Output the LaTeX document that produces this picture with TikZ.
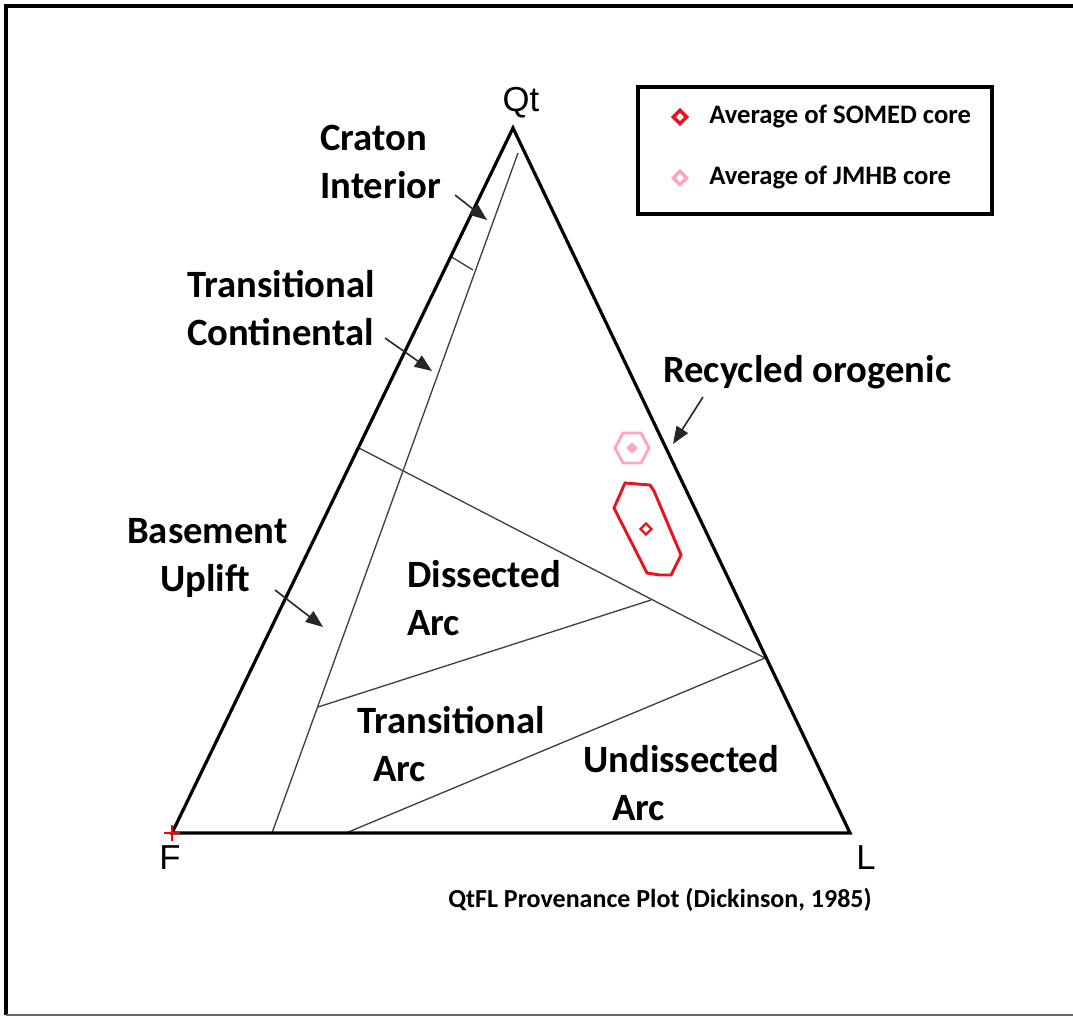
\documentclass[tikz,border=0pt]{standalone}
\usepackage{fontspec}
\setmainfont{Carlito}
\newfontfamily\arialfont{Liberation Sans}
\usetikzlibrary{arrows.meta,shapes.geometric}
\definecolor{somedred}{RGB}{230,20,30}
\definecolor{jmhbpink}{RGB}{255,165,195}
\tikzset{
        x=0.75pt, y=-0.75pt,
        frame/.style={draw=black, line width=3pt},
        edge/.style={draw=black, line width=2.4pt, line join=miter},
        field/.style={draw=black!75, line width=1pt},
        lbl/.style={anchor=base west, inner sep=0pt, font=\fontsize{29}{35}\selectfont\bfseries},
        apex/.style={inner sep=0pt, font=\arialfont\fontsize{26}{30}\selectfont},
        pointer/.style={draw=black!85, line width=1.2pt, -{Triangle[length=13pt, width=10pt]}},
        legtext/.style={anchor=west, inner sep=0pt, font=\fontsize{20}{24}\selectfont\bfseries},
        somed/.style={draw=somedred, line width=2.2pt},
        jmhb/.style={draw=jmhbpink, line width=2.2pt},
        dmark/.style={diamond, inner sep=0pt, minimum size=11pt}
          }
\begin{document}
\begin{tikzpicture}
            \useasboundingbox (0,0) rectangle (1073,1018);
            % outer frame (right side cut off)
            \draw[frame] (1073,6) -- (6,6) -- (6,1015);
            \draw[draw=black!60, line width=1.5pt] (6,1015) -- (1073,1015);

            % corners of the plot
            \coordinate (qt) at (513,128);
            \coordinate (f) at (172,833);
            \coordinate (l) at (850,833);

            % boundaries of the fields
            \coordinate (ci) at (518,153);
            \coordinate (cb) at (272,833);
            \coordinate (tl) at (450,256);
            \coordinate (tr) at (473,270);
            \coordinate (ml) at (357,447);
            \coordinate (mr) at (765,658);
            \coordinate (dl) at (318,707);
            \coordinate (dr) at (651,600);
            \coordinate (ub) at (346,833);
            \draw[field] (ci) -- (cb);
            \draw[field] (tl) -- (tr);
            \draw[field] (ml) -- (mr);
            \draw[field] (dl) -- (dr);
            \draw[field] (ub) -- (mr);

            \draw[edge] (qt) -- (f) -- (l) -- cycle;
            \draw[red, line width=1pt] (164,833) -- (180,833) (172,825) -- (172,841);

            \node[apex] (nqt) at (521,103) {Qt};
            \node[apex] (nf) at (170,858) {F};
            \node[apex] (nl) at (866,858) {L};

            % field names
            \node[lbl] (craton) at (320,150) {Craton};
            \node[lbl] (interior) at (320,198) {Interior};
            \node[lbl] (trans1) at (187,297) {Transitional};
            \node[lbl] (cont) at (187,345) {Continental};
            \node[lbl] (base) at (127,543) {Basement};
            \node[lbl] (uplift) at (160,591) {Uplift};
            \node[lbl] (recyc) at (663,382) {Recycled orogenic};
            \node[lbl] (diss) at (407,587) {Dissected};
            \node[lbl] (arc1) at (407,635) {Arc};
            \node[lbl] (trans2) at (357,733) {Transitional};
            \node[lbl] (arc2) at (373,781) {Arc};
            \node[lbl] (undiss) at (583,772) {Undissected};
            \node[lbl] (arc3) at (612,820) {Arc};

            % pointers
            \coordinate (p1a) at (455,195);
            \coordinate (p1b) at (487,220);
            \coordinate (p2a) at (385,338);
            \coordinate (p2b) at (432,371);
            \coordinate (p3a) at (275,590);
            \coordinate (p3b) at (323,627);
            \coordinate (p4a) at (703,397);
            \coordinate (p4b) at (673,444);
            \draw[pointer] (p1a) -- (p1b);
            \draw[pointer] (p2a) -- (p2b);
            \draw[pointer] (p3a) -- (p3b);
            \draw[pointer] (p4a) -- (p4b);

            % data
            \draw[jmhb] (615,448) -- (623,433) -- (641,433) -- (649,448) -- (641,463) -- (623,463) -- cycle;
            \node[dmark, fill=jmhbpink, minimum size=9pt] (jmhbpt) at (632,448) {};
            \draw[somed] (614,508) -- (625,483) -- (650,485) -- (654,491) -- (681,555) -- (671,575)
              -- (660,575) -- (647,573) -- cycle;
            \node[dmark, somed, line width=1.8pt, minimum size=9pt] (somedpt) at (646,529) {};

            % legend
            \node[draw=black, line width=3pt, minimum width=354pt*0.75, minimum height=127pt*0.75,
              anchor=north west, inner sep=0pt] (legend) at (636,85) {};
            \node[dmark, somed, line width=2.6pt] (leg1) at (680,117) {};
            \node[legtext] (leg1t) at (709,116) {Average of SOMED core};
            \node[dmark, jmhb, line width=2.6pt] (leg2) at (680,178) {};
            \node[legtext] (leg2t) at (709,177) {Average of JMHB core};

            \node[inner sep=0pt, font=\fontsize{19.5}{23}\selectfont\bfseries] (title) at (660,900)
              {QtFL Provenance Plot (Dickinson, 1985)};
          \end{tikzpicture}
\end{document}
